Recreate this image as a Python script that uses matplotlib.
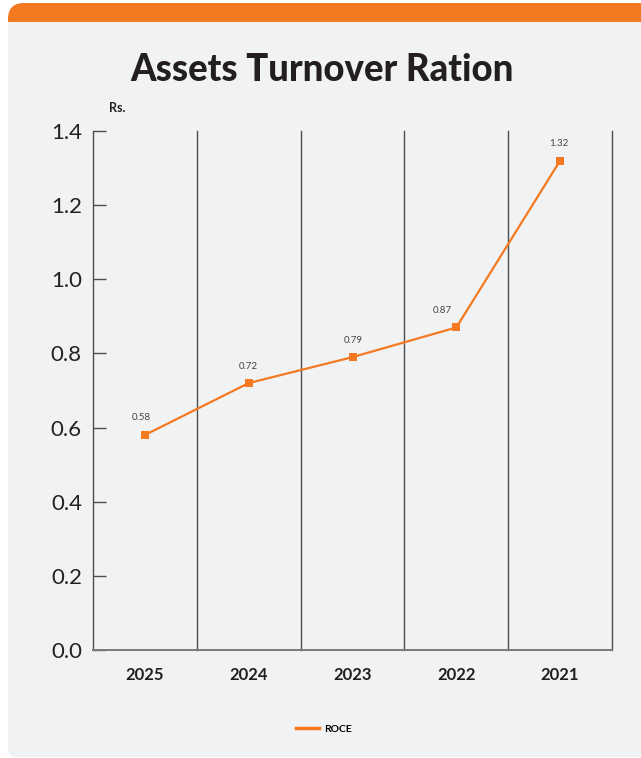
import matplotlib
matplotlib.use("Agg")
import matplotlib.pyplot as plt
from matplotlib.patches import FancyBboxPatch, Rectangle
from matplotlib.lines import Line2D

years = ["2025", "2024", "2023", "2022", "2021"]
roce = [0.58, 0.72, 0.79, 0.87, 1.32]
y_ticks = [0.0, 0.2, 0.4, 0.6, 0.8, 1.0, 1.2, 1.4]
label_dx = [-4, 0, 1, -14, -1]   # horizontal nudges for value labels (px)

ORANGE = "#F47920"
CARD = "#F1F2F4"
INK = "#231F20"
GRID = "#4D4D4D"
FONT = ["Lato", "DejaVu Sans"]

W, H = 641, 758
fig = plt.figure(figsize=(W / 100, H / 100), dpi=100)
fig.patch.set_facecolor("white")

# background card drawn in pixel units
bg = fig.add_axes([0, 0, 1, 1])
bg.set_xlim(0, W)
bg.set_ylim(H, 0)
bg.axis("off")
bg.add_patch(FancyBboxPatch((8, 3), W + 20 - 8, 80,
                            boxstyle="round,pad=0,rounding_size=16",
                            facecolor=ORANGE, edgecolor="none"))
bg.add_patch(FancyBboxPatch((8, 22), W + 20 - 8, 757 - 22,
                            boxstyle="round,pad=0,rounding_size=9",
                            facecolor=CARD, edgecolor="none"))
bg.add_patch(Rectangle((8, 22), W + 20 - 8, 40, facecolor=CARD, edgecolor="none"))

bg.text(322, 70, "Assets Turnover Ration", ha="center", va="center",
        fontsize=26.3, fontweight="black", color=INK, family=FONT)
bg.text(117, 108, "Rs.", ha="center", va="center",
        fontsize=9, fontweight="bold", color=INK, family=FONT)

# plotting area
x0, x1, y0, y1 = 93, 612, 131, 650
ax = fig.add_axes([x0 / W, 1 - y1 / H, (x1 - x0) / W, (y1 - y0) / H])
ax.set_facecolor("none")
xs = list(range(len(years)))
ax.set_xlim(-0.5, len(years) - 0.5)
ax.set_ylim(0, 1.4)

for b in range(1, len(years) + 1):
    ax.axvline(b - 0.5, color=GRID, lw=1.0, zorder=1, clip_on=False)

ax.plot(xs, roce, color=ORANGE, lw=1.6, marker="s", markersize=6,
        markeredgewidth=0, zorder=3)

for x, v, dx in zip(xs, roce, label_dx):
    ax.annotate(f"{v:.2f}", (x, v), xytext=(dx * 0.72, 9), textcoords="offset points",
                ha="center", va="bottom", fontsize=7, color="#444444", family=FONT)

for side in ["top", "right"]:
    ax.spines[side].set_visible(False)
ax.spines["left"].set_color(GRID)
ax.spines["left"].set_linewidth(1.0)
ax.spines["bottom"].set_color("#7A7A7A")
ax.spines["bottom"].set_linewidth(1.4)

ax.set_yticks(y_ticks)
ax.set_yticklabels([f"{t:.1f}" for t in y_ticks])
ax.tick_params(axis="y", direction="in", length=9, width=1.0, color=GRID,
               pad=8, labelsize=16, labelcolor="#222222")
for lab in ax.get_yticklabels():
    lab.set_family(FONT)
    lab.set_fontweight("normal")

ax.set_xticks(xs)
ax.set_xticklabels(years)
ax.tick_params(axis="x", length=0, pad=12, labelsize=12, labelcolor=INK)
for lab in ax.get_xticklabels():
    lab.set_family(FONT)
    lab.set_fontweight("bold")

handle = Line2D([], [], color=ORANGE, lw=2.5)
fig.legend([handle], ["ROCE"], loc="center", bbox_to_anchor=(324 / W, 1 - 729 / H),
           frameon=False, handlelength=2.2, handletextpad=0.5,
           prop={"family": FONT, "weight": "bold", "size": 7.5})

fig.savefig("out.png", dpi=100, facecolor=fig.get_facecolor())
